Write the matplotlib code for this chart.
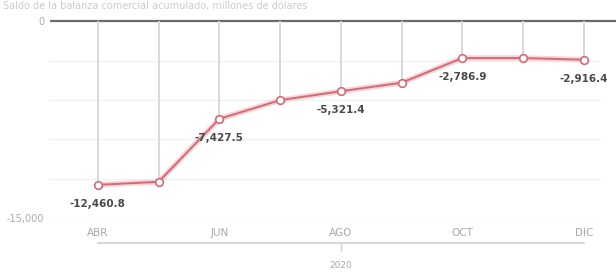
import matplotlib.pyplot as plt
import numpy as np

# data
months = ["ABR", "MAY", "JUN", "JUL", "AGO", "SEP", "OCT", "NOV", "DIC"]
values = [-12460.8, -12230.0, -7427.5, -6000.0, -5321.4, -4670.0, -2786.9, -2790.0, -2916.4]
labelled = ["ABR", "JUN", "AGO", "OCT", "DIC"]
year = "2020"
title = "Saldo de la balanza comercial acumulado, millones de dólares"

line_red = "#d46a75"
grey_txt = "#a8a8a8"

fig = plt.figure(figsize=(6.16, 2.74), dpi=100)
ax = fig.add_axes([0.081, 0.204, 0.919, 0.741])

x = np.arange(len(months))

# faint horizontal grid
for g in [-3000, -6000, -9000, -12000, -15000]:
    ax.axhline(g, color="#f1f1f1", lw=1, zorder=0, xmax=0.97)
ax.axhline(0, color="#6a6a6a", lw=1.6, zorder=1)

# drop lines from zero to each point
ax.vlines(x, values, 0, color="#d6d6d6", lw=1.3, zorder=1)

# glow + line
ax.plot(x, values, color="#f6d4d8", lw=4, zorder=2, solid_capstyle="round")
ax.plot(x, values, color=line_red, lw=1.4, zorder=3, marker="o", ms=5.5,
        mfc="white", mec=line_red, mew=1.2)

for i, m in enumerate(months):
    if m in labelled:
        ax.annotate(f"{values[i]:,.1f}", (x[i], values[i]), xytext=(0, -10),
                    textcoords="offset points", ha="center", va="top",
                    fontsize=7.5, fontweight="bold", color="#4a4a4a")

ax.set_xlim(-0.79, 8.53)
ax.set_ylim(-15000, 490)

ax.set_yticks([0, -15000])
ax.set_yticklabels(["0", "-15,000"], fontsize=7, color=grey_txt)
ax.tick_params(axis="y", length=0, pad=4)

ax.set_xticks([months.index(m) for m in labelled])
ax.set_xticklabels(labelled, fontsize=7.5, color=grey_txt)
ax.tick_params(axis="x", length=0, pad=7)

for s in ax.spines.values():
    s.set_visible(False)

# year group axis
tr = ax.get_xaxis_transform()
ax.plot([0, 8], [-0.123, -0.123], color="#d0d0d0", lw=1.2, transform=tr, clip_on=False)
ax.plot([4, 4], [-0.123, -0.16], color="#d0d0d0", lw=1, transform=tr, clip_on=False)
ax.text(4, -0.235, year, transform=tr, ha="center", va="center", fontsize=6.5, color=grey_txt)

fig.text(0.005, 0.997, title, ha="left", va="top", fontsize=7, color="#cccccc")

fig.savefig("out.png", dpi=100)
